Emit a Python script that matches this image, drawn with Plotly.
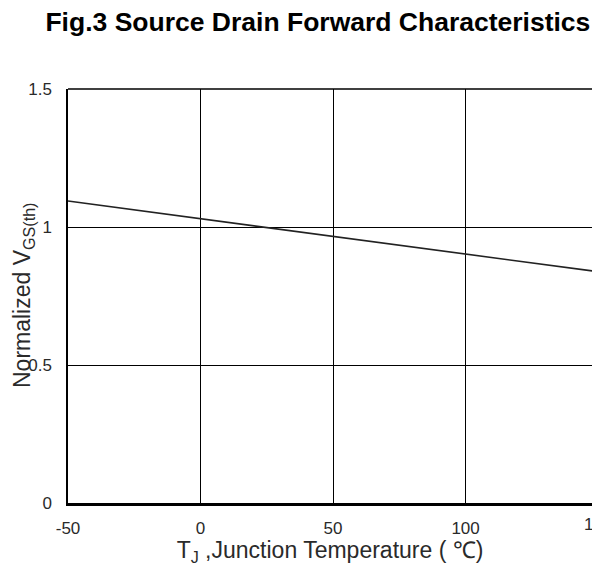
import plotly.graph_objects as go

# Data
temp_c = [-50, 0, 25, 50, 100, 150]
vgs_norm = [1.094, 1.030, 0.998, 0.966, 0.902, 0.838]

x_ticks = [-50, 0, 50, 100, 150]
y_ticks = [0, 0.5, 1, 1.5]
y_tick_text = ["0", "0.5", "1", "1.5"]

font = "Liberation Sans, Arial, sans-serif"
tick_color = "#2a2a2a"

W, H = 592, 566
L, R, T, B = 68, 0, 89, 63
plot_w = W - L - R
x_min, x_max = -50, 147.7

fig = go.Figure()
fig.add_trace(go.Scatter(x=temp_c, y=vgs_norm, mode="lines",
                         line=dict(color="#222222", width=1.6),
                         showlegend=False, cliponaxis=True))

fig.update_layout(
    width=W, height=H,
    margin=dict(l=L, r=R, t=T, b=B, autoexpand=False),
    paper_bgcolor="white", plot_bgcolor="white",
    title=dict(text="<b>Fig.3 Source Drain Forward Characteristics</b>",
               xref="container", x=0.537, xanchor="center",
               yref="container", y=0.961, yanchor="middle",
               font=dict(family=font, size=26.5, color="black")),
    xaxis=dict(range=[x_min, x_max], tickvals=x_ticks,
               ticktext=[str(v) for v in x_ticks],
               showgrid=True, gridcolor="black", gridwidth=1.3,
               zeroline=False, showline=True, linecolor="black", linewidth=2.5,
               ticks="", ticklabelstandoff=8, automargin=False,
               tickfont=dict(family=font, size=17, color=tick_color),
               title=dict(text="T<sub>J</sub> ,Junction Temperature ( ℃)",
                          font=dict(family=font, size=23, color=tick_color),
                          standoff=0)),
    yaxis=dict(range=[0, 1.5], tickvals=y_ticks, ticktext=y_tick_text,
               showgrid=True, gridcolor="black", gridwidth=1.3,
               zeroline=False, showline=True, linecolor="black", linewidth=1.5,
               ticks="", ticklabelstandoff=11, automargin=False,
               tickfont=dict(family=font, size=17, color=tick_color)),
)

# y-axis title, placed by hand so it overlaps the tick labels like the reference
fig.add_annotation(xref="paper", yref="paper", x=(23 - L) / plot_w, y=0.5,
                   xanchor="center", yanchor="middle", textangle=-90,
                   text="Normalized V<sub>GS(th)</sub>", showarrow=False,
                   font=dict(family=font, size=23, color=tick_color))

# top border of the plot area
fig.add_shape(type="line", xref="paper", yref="paper", x0=0, x1=1, y0=1, y1=1,
              line=dict(color="black", width=1.5))

# the 150 tick label lies just beyond the visible range and is cut off by the page edge
fig.add_annotation(xref="paper", yref="paper",
                   x=(x_ticks[-1] - x_min) / (x_max - x_min), y=0,
                   text=str(x_ticks[-1]), showarrow=False,
                   xanchor="center", yanchor="top", yshift=-10,
                   font=dict(family=font, size=17, color=tick_color))

fig.write_html("out.html",
               config={"displayModeBar": False},
               post_script="document.body.style.margin='0';"
                           "document.body.style.overflow='hidden';")
